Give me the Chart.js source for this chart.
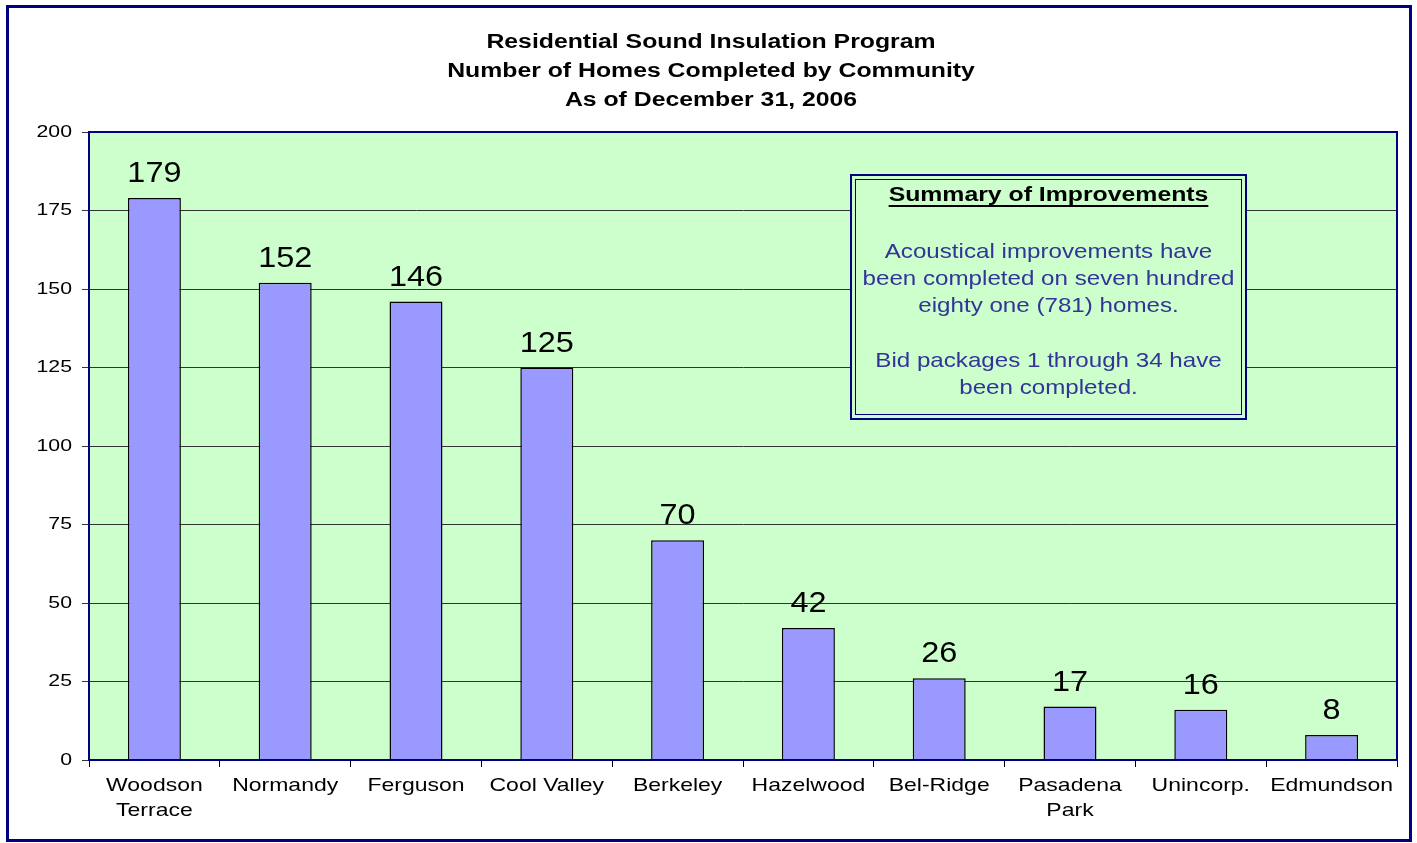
<!DOCTYPE html>
<html>
<head>
<meta charset="utf-8">
<script src="https://cdn.jsdelivr.net/npm/chart.js@4/dist/chart.umd.min.js"></script>
<style>
  body { margin: 0; background: #fff; }
  #wrap { width: 1417px; height: 843px; position: relative; }
</style>
</head>
<body>
<div id="wrap"><canvas id="myChart" width="1417" height="843"></canvas></div>
<script>
// chart data
const communities = [
  ["Woodson", "Terrace"], "Normandy", "Ferguson", "Cool Valley", "Berkeley",
  "Hazelwood", "Bel-Ridge", ["Pasadena", "Park"], "Unincorp.", "Edmundson"
];
const homesCompleted = [179, 152, 146, 125, 70, 42, 26, 17, 16, 8];
const titleLines = [
  "Residential Sound Insulation Program",
  "Number of Homes Completed by Community",
  "As of December 31, 2006"
];
const summaryTitle = "Summary of Improvements";
const summaryLines = [
  "Acoustical improvements have",
  "been completed on seven hundred",
  "eighty one (781) homes.",
  "",
  "Bid packages 1 through 34 have",
  "been completed."
];

const FONT = "Arial, 'Liberation Sans', sans-serif";

// the original text is Arial drawn a bit wider, so squeeze it out sideways
function wideText(ctx, text, x, y, sx, align) {
  ctx.save();
  ctx.translate(x, y);
  ctx.scale(sx, 1);
  ctx.textAlign = align || "center";
  ctx.fillText(text, 0, 0);
  ctx.restore();
}

const decorations = {
  id: "decorations",
  beforeDraw(chart) {
    const ctx = chart.ctx;
    const a = chart.chartArea;
    ctx.save();
    ctx.fillStyle = "#fff";
    ctx.fillRect(0, 0, chart.width, chart.height);
    ctx.fillStyle = "#CCFFCC";
    ctx.fillRect(a.left, a.top, a.right - a.left, a.bottom - a.top);
    ctx.restore();
  },
  afterDraw(chart) {
    const ctx = chart.ctx;
    const a = chart.chartArea;
    const xs = chart.scales.x, ys = chart.scales.y;
    ctx.save();
    // outer frame
    ctx.strokeStyle = "#000080";
    ctx.lineWidth = 3;
    ctx.strokeRect(7.5, 6.5, 1403, 834);
    // plot border
    ctx.lineWidth = 2;
    ctx.strokeRect(a.left, a.top, a.right - a.left, a.bottom - a.top);

    ctx.fillStyle = "#000";
    ctx.textBaseline = "middle";

    // title
    ctx.font = "bold 20px " + FONT;
    titleLines.forEach((line, i) => wideText(ctx, line, 711, 42 + i * 29, 1.24));

    // y tick labels
    ctx.font = "17px " + FONT;
    ys.ticks.forEach(t => {
      wideText(ctx, String(t.value), a.left - 17, ys.getPixelForValue(t.value), 1.25, "right");
    });

    // x tick labels
    ctx.font = "19px " + FONT;
    chart.data.labels.forEach((lab, i) => {
      const lines = Array.isArray(lab) ? lab : [lab];
      const x = xs.getPixelForValue(i);
      lines.forEach((l, j) => wideText(ctx, l, x, a.bottom + 26 + j * 25, 1.21));
    });

    // value labels
    const meta = chart.getDatasetMeta(0);
    ctx.font = "30px " + FONT;
    ctx.textBaseline = "alphabetic";
    meta.data.forEach((bar, i) => {
      wideText(ctx, String(homesCompleted[i]), bar.x, bar.y - 16, 1.08);
    });

    // summary box
    const bx = a.left + 762, by = a.top + 43, bw = 395, bh = 244;
    ctx.fillStyle = "#CCFFCC";
    ctx.fillRect(bx, by, bw, bh);
    ctx.strokeStyle = "#000080";
    ctx.lineWidth = 2;
    ctx.strokeRect(bx, by, bw, bh);
    ctx.lineWidth = 1;
    ctx.strokeRect(bx + 4.5, by + 4.5, bw - 9, bh - 9);

    const cx = bx + bw / 2;
    ctx.fillStyle = "#000";
    ctx.font = "bold 20px " + FONT;
    ctx.textBaseline = "middle";
    wideText(ctx, summaryTitle, cx, by + 20, 1.24);
    const tw = ctx.measureText(summaryTitle).width * 1.24;
    ctx.fillRect(cx - tw / 2, by + 30, tw, 2);

    ctx.fillStyle = "#333399";
    ctx.font = "21px " + FONT;
    summaryLines.forEach((line, i) => {
      wideText(ctx, line, cx, by + 77 + i * 27.3, 1.15);
    });
    ctx.restore();
  }
};

const ctx = document.getElementById("myChart").getContext("2d");
new Chart(ctx, {
  type: "bar",
  data: {
    labels: communities,
    datasets: [{
      label: "Homes completed",
      data: homesCompleted,
      backgroundColor: "#9999FF",
      borderColor: "#000",
      borderWidth: 1.5,
      borderSkipped: "bottom",
      barPercentage: 0.405,
      categoryPercentage: 1
    }]
  },
  options: {
    responsive: false,
    animation: false,
    layout: { padding: { left: 0, right: 20, top: 132, bottom: 0 } },
    plugins: {
      legend: { display: false },
      tooltip: { enabled: false },
      title: { display: false }
    },
    scales: {
      x: {
        grid: {
          offset: true,
          drawOnChartArea: false,
          drawTicks: true,
          tickLength: 7,
          color: "#000",
          lineWidth: 1
        },
        border: { color: "#000080", width: 2 },
        ticks: {
          color: "rgba(0,0,0,0)",
          font: { family: FONT, size: 19 },
          maxRotation: 0,
          autoSkip: false
        },
        afterFit(scale) { scale.height = 83; }
      },
      y: {
        min: 0,
        max: 200,
        grid: {
          color: "#333",
          lineWidth: 1,
          tickLength: 7,
          drawTicks: true
        },
        border: { color: "#000080", width: 2 },
        ticks: {
          stepSize: 25,
          color: "rgba(0,0,0,0)",
          font: { family: FONT, size: 17 }
        },
        afterFit(scale) { scale.width = 89; }
      }
    }
  },
  plugins: [decorations]
});
</script>
</body>
</html>
